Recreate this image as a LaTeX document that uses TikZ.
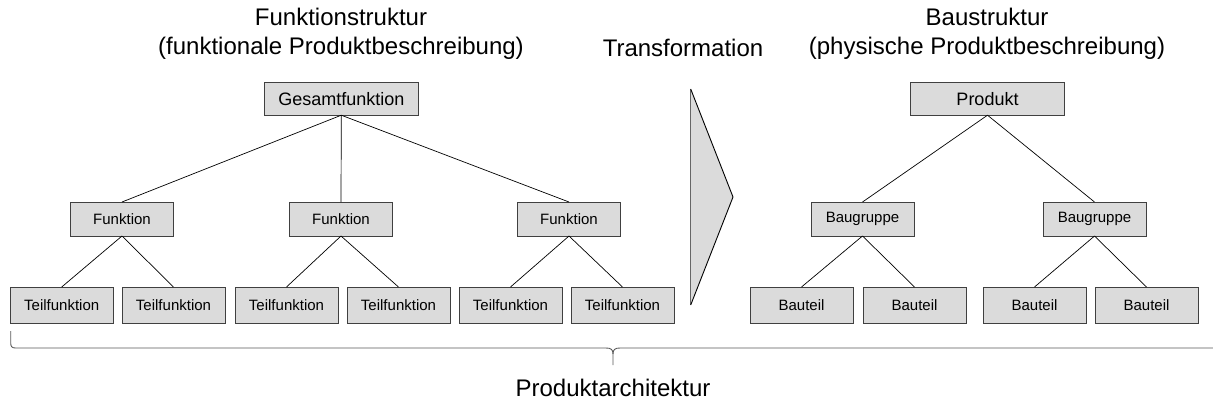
\documentclass[tikz,border=0pt]{standalone}
\usepackage{fontspec}
\setmainfont{Liberation Sans}
\begin{document}
\begin{tikzpicture}[x=1pt,y=-1pt,
  every node/.style={inner sep=0pt,outer sep=0pt},
  boxbase/.style={draw=black!75,fill=black!14,line width=0.9pt,anchor=center},
  topbox/.style={boxbase,minimum width=154pt,minimum height=33pt,font=\fontsize{18}{20}\selectfont},
  midbox/.style={boxbase,minimum width=103pt,minimum height=34pt,font=\fontsize{15}{17}\selectfont},
  lowbox/.style={boxbase,minimum width=103pt,minimum height=36pt,font=\fontsize{15}{17}\selectfont},
  title/.style={font=\fontsize{24}{28}\selectfont,anchor=center},
  link/.style={draw=black,line width=0.7pt}]
\useasboundingbox (0,0) rectangle (1213,405);

% headings
\node[title] (tF1) at (341,17) {Funktionstruktur};
\node[title] (tF2) at (341,48) {(funktionale Produktbeschreibung)};
\node[title] (tT) at (683,48) {Transformation};
\node[title] (tB1) at (987,17) {Baustruktur};
\node[title] (tB2) at (987,48) {(physische Produktbeschreibung)};
\node[title] (tP) at (613,388) {Produktarchitektur};

% function structure
\node[topbox] (g) at (341.3,98.7) {Gesamtfunktion};
\node[midbox] (f1) at (122,219) {Funktion};
\node[midbox] (f2) at (341,219) {Funktion};
\node[midbox] (f3) at (569,219) {Funktion};
\node[lowbox] (t1) at (61.7,305) {Teilfunktion};
\node[lowbox] (t2) at (173.5,305) {Teilfunktion};
\node[lowbox] (t3) at (286.5,305) {Teilfunktion};
\node[lowbox] (t4) at (398.5,305) {Teilfunktion};
\node[lowbox] (t5) at (510.5,305) {Teilfunktion};
\node[lowbox] (t6) at (622.5,305) {Teilfunktion};

\foreach \c in {f1,f2,f3} \draw[link] (g.south) -- (\c.north);
\draw[link] (f1.south) -- (t1.north);
\draw[link] (f1.south) -- (t2.north);
\draw[link] (f2.south) -- (t3.north);
\draw[link] (f2.south) -- (t4.north);
\draw[link] (f3.south) -- (t5.north);
\draw[link] (f3.south) -- (t6.north);

% transformation arrow
\coordinate (aTop) at (690.7,89);
\coordinate (aTip) at (733,197);
\coordinate (aBot) at (690.7,305);
\fill[black!14] (aTop) -- (aTip) -- (aBot) -- cycle;
\draw[black!60,line width=1pt] (aTop) -- (aBot);
\draw[black,line width=0.9pt,line join=miter] (aTop) -- (aTip) -- (aBot);

% physical structure
\node[topbox] (p) at (987.5,98.7) {Produkt};
\node[midbox] (b1) at (862.5,219) {Baugruppe};
\node[midbox] (b2) at (1094.5,219) {Baugruppe};
\node[lowbox] (u1) at (801.5,305) {Bauteil};
\node[lowbox] (u2) at (914.5,305) {Bauteil};
\node[lowbox] (u3) at (1034.5,305) {Bauteil};
\node[lowbox] (u4) at (1146.5,305) {Bauteil};

\draw[link] (p.south) -- (b1.north);
\draw[link] (p.south) -- (b2.north);
\draw[link] (b1.south) -- (u1.north);
\draw[link] (b1.south) -- (u2.north);
\draw[link] (b2.south) -- (u3.north);
\draw[link] (b2.south) -- (u4.north);

% brace spanning the whole architecture
\coordinate (brL) at (10.7,331);
\coordinate (brM) at (613,365);
\coordinate (brR) at (1213,348);
\draw[black!65,line width=0.9pt]
  (brL) -- (10.7,343) .. controls (10.7,346.5) and (12,348) .. (15.5,348)
  -- (606,348) .. controls (611,348) and (613,349.5) .. (613,354) -- (brM);
\draw[black!65,line width=0.9pt]
  (613,354) .. controls (613,349.5) and (615,348) .. (620,348) -- (brR);
\end{tikzpicture}
\end{document}
